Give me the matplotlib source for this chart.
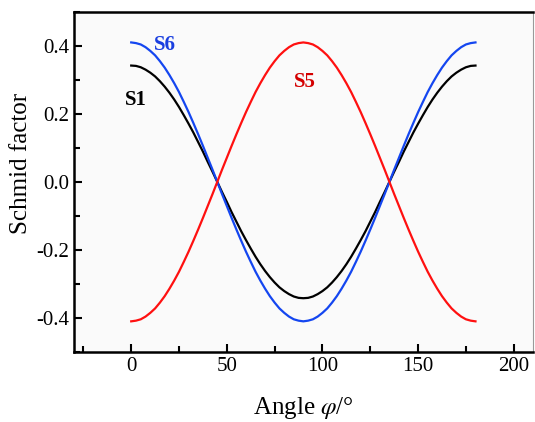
import matplotlib
matplotlib.use("Agg")
import matplotlib.pyplot as plt
from matplotlib.ticker import MultipleLocator

# angle phi (deg) and Schmid factors, every 2.5 deg
angle = [0, 2.5, 5, 7.5, 10, 12.5, 15, 17.5, 20, 22.5, 25, 27.5, 30, 32.5, 35,
         37.5, 40, 42.5, 45, 47.5, 50, 52.5, 55, 57.5, 60, 62.5, 65, 67.5, 70,
         72.5, 75, 77.5, 80, 82.5, 85, 87.5, 90, 92.5, 95, 97.5, 100, 102.5, 105,
         107.5, 110, 112.5, 115, 117.5, 120, 122.5, 125, 127.5, 130, 132.5, 135,
         137.5, 140, 142.5, 145, 147.5, 150, 152.5, 155, 157.5, 160, 162.5, 165,
         167.5, 170, 172.5, 175, 177.5, 180]
s1 = [0.342, 0.341, 0.337, 0.330, 0.321, 0.310, 0.296, 0.280, 0.262, 0.242,
      0.220, 0.196, 0.171, 0.145, 0.117, 0.089, 0.059, 0.030, 0.000,
      -0.030, -0.059, -0.089, -0.117, -0.145, -0.171, -0.196, -0.220, -0.242,
      -0.262, -0.280, -0.296, -0.310, -0.321, -0.330, -0.337, -0.341, -0.342,
      -0.341, -0.337, -0.330, -0.321, -0.310, -0.296, -0.280, -0.262, -0.242,
      -0.220, -0.196, -0.171, -0.145, -0.117, -0.089, -0.059, -0.030, 0.000,
      0.030, 0.059, 0.089, 0.117, 0.145, 0.171, 0.196, 0.220, 0.242,
      0.262, 0.280, 0.296, 0.310, 0.321, 0.330, 0.337, 0.341, 0.342]
s6 = [0.410, 0.408, 0.404, 0.396, 0.385, 0.372, 0.355, 0.336, 0.314, 0.290,
      0.264, 0.235, 0.205, 0.173, 0.140, 0.106, 0.071, 0.036, 0.000,
      -0.036, -0.071, -0.106, -0.140, -0.173, -0.205, -0.235, -0.264, -0.290,
      -0.314, -0.336, -0.355, -0.372, -0.385, -0.396, -0.404, -0.408, -0.410,
      -0.408, -0.404, -0.396, -0.385, -0.372, -0.355, -0.336, -0.314, -0.290,
      -0.264, -0.235, -0.205, -0.173, -0.140, -0.106, -0.071, -0.036, 0.000,
      0.036, 0.071, 0.106, 0.140, 0.173, 0.205, 0.235, 0.264, 0.290,
      0.314, 0.336, 0.355, 0.372, 0.385, 0.396, 0.404, 0.408, 0.410]
s5 = [-0.410, -0.408, -0.404, -0.396, -0.385, -0.372, -0.355, -0.336, -0.314, -0.290,
      -0.264, -0.235, -0.205, -0.173, -0.140, -0.106, -0.071, -0.036, 0.000,
      0.036, 0.071, 0.106, 0.140, 0.173, 0.205, 0.235, 0.264, 0.290,
      0.314, 0.336, 0.355, 0.372, 0.385, 0.396, 0.404, 0.408, 0.410,
      0.408, 0.404, 0.396, 0.385, 0.372, 0.355, 0.336, 0.314, 0.290,
      0.264, 0.235, 0.205, 0.173, 0.140, 0.106, 0.071, 0.036, 0.000,
      -0.036, -0.071, -0.106, -0.140, -0.173, -0.205, -0.235, -0.264, -0.290,
      -0.314, -0.336, -0.355, -0.372, -0.385, -0.396, -0.404, -0.408, -0.410]

plt.rcParams["font.family"] = ["Liberation Serif", "DejaVu Serif"]
plt.rcParams["mathtext.fontset"] = "stix"

fig = plt.figure(figsize=(5.35, 4.22), dpi=100)
ax = fig.add_axes([0.138, 0.166, 0.858, 0.806])
ax.set_facecolor("#fafafa")

ax.plot(angle, s1, color="black", lw=1.6)
ax.plot(angle, s6, color="#1446f0", lw=1.6)
ax.plot(angle, s5, color="#ff1010", lw=1.6)

ax.text(17.6, 0.403, "S6", color="#1a3fe0", fontsize=15, fontweight="bold",
        ha="center", va="center")
ax.text(2.4, 0.241, "S1", color="black", fontsize=15, fontweight="bold",
        ha="center", va="center")
ax.text(91, 0.294, "S5", color="#d40000", fontsize=15, fontweight="bold",
        ha="center", va="center")

ax.set_xlim(-30, 210)
ax.set_ylim(-0.5, 0.5)
ax.xaxis.set_major_locator(MultipleLocator(50))
ax.xaxis.set_minor_locator(MultipleLocator(25))
ax.yaxis.set_minor_locator(MultipleLocator(0.1))
ax.set_yticks([-0.4, -0.2, 0.0, 0.2, 0.4])
ax.set_yticklabels(["-0.4", "-0.2", "0.0", "0.2", "0.4"])

ax.tick_params(which="both", direction="in", top=False, right=False,
               labelsize=15, width=1.5)
ax.tick_params(which="major", length=6)
ax.tick_params(which="minor", length=4)
for side in ["left", "bottom", "top"]:
    ax.spines[side].set_linewidth(1.8)
ax.spines["right"].set_linewidth(0.8)
ax.spines["right"].set_color("#999999")

ax.set_xlabel(r"Angle $\varphi$/°", fontsize=18, labelpad=14)
ax.set_ylabel("Schmid factor", fontsize=18)
ax.yaxis.set_label_coords(-0.092, 0.553)

fig.savefig("out.png", dpi=100)
